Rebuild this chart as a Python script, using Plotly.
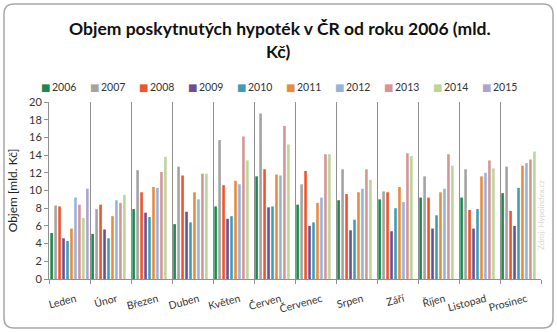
import plotly.graph_objects as go

months = ["Leden", "Únor", "Březen", "Duben", "Květen", "Červen",
          "Červenec", "Srpen", "Září", "Říjen", "Listopad", "Prosinec"]

v2006 = [5.2, 5.1, 7.9, 6.2, 8.2, 11.6, 8.4, 8.9, 9.0, 9.2, 9.2, 9.7]
v2007 = [8.3, 7.9, 12.3, 12.7, 15.7, 18.7, 10.7, 12.4, 9.9, 11.6, 12.4, 12.7]
v2008 = [8.2, 8.4, 9.8, 11.7, 10.6, 12.4, 12.2, 9.6, 9.8, 9.2, 7.8, 7.7]
v2009 = [4.6, 5.6, 7.5, 7.6, 6.8, 8.1, 6.0, 5.5, 5.4, 5.7, 5.7, 6.0]
v2010 = [4.3, 4.6, 7.0, 6.4, 7.1, 8.2, 6.4, 6.7, 8.0, 7.2, 7.9, 10.3]
v2011 = [5.7, 7.1, 10.4, 9.8, 11.1, 11.8, 8.6, 9.8, 10.4, 9.8, 11.6, 12.8]
v2012 = [9.2, 8.9, 10.3, 9.0, 10.7, 11.7, 9.2, 10.2, 8.7, 10.2, 12.0, 13.1]
v2013 = [8.4, 8.6, 12.1, 11.9, 16.1, 17.3, 14.1, 12.4, 14.2, 14.1, 13.4, 13.5]
v2014 = [6.9, 9.5, 13.8, 11.9, 13.4, 15.2, 14.1, 11.2, 13.9, 12.8, 12.5, 14.4]
v2015 = [10.2, None, None, None, None, None, None, None, None, None, None, None]

years = ["2006", "2007", "2008", "2009", "2010", "2011", "2012", "2013", "2014", "2015"]
series = [v2006, v2007, v2008, v2009, v2010, v2011, v2012, v2013, v2014, v2015]
colors = ["#1A8A4C", "#A3A3A3", "#F2532B", "#6B4F94", "#3D9DB9",
          "#E98B3C", "#97B3DD", "#D69595", "#BDD49B", "#ACA5CA"]

W, H = 557, 332
L, R, T, B = 49, 16, 102, 53
PW, PH = W - L - R, H - T - B

def px(x):
    return (x - L) / PW

def py(y):
    return (H - B - y) / PH

fig = go.Figure()
for yr, vals, c in zip(years, series, colors):
    fig.add_trace(go.Bar(name=yr, x=months, y=vals, marker_color=c,
                         marker_line_width=0, showlegend=False))

font = "Lato, 'Open Sans', sans-serif"

# rounded border
x0, x1, y0, y1, r = px(4), px(553), py(4), py(328), 10
rx, ry = r / PW, r / PH
path = (f"M {x0+rx},{y0} L {x1-rx},{y0} Q {x1},{y0} {x1},{y0-ry} "
        f"L {x1},{y1+ry} Q {x1},{y1} {x1-rx},{y1} "
        f"L {x0+rx},{y1} Q {x0},{y1} {x0},{y1+ry} "
        f"L {x0},{y0-ry} Q {x0},{y0} {x0+rx},{y0} Z")

title_font = dict(family=font, size=17.5, color="#111", weight="bold")
annotations = [
    dict(text="Objem poskytnutých hypoték v ČR od roku 2006 (mld.",
         x=px(280), y=py(28), xref="paper", yref="paper", xanchor="center",
         yanchor="middle", showarrow=False, font=title_font),
    dict(text="Kč)",
         x=px(278), y=py(52), xref="paper", yref="paper", xanchor="center",
         yanchor="middle", showarrow=False, font=title_font),
    dict(text="Zdroj: Hypoindex.cz", textangle=-90, x=px(548), y=py(215),
         xref="paper", yref="paper", showarrow=False,
         font=dict(size=8, color="#d8d8d8")),
]
# legend entries (colored square + label)
for i, (yr, c) in enumerate(zip(years, colors)):
    annotations.append(dict(
        text=f"<span style='color:{c}'>■</span>",
        x=px(45 + i * 49), y=py(87), xref="paper", yref="paper",
        xanchor="center", yanchor="middle", showarrow=False,
        font=dict(family="DejaVu Sans", size=10)))
    annotations.append(dict(
        text=yr,
        x=px(50 + i * 49), y=py(87), xref="paper", yref="paper",
        xanchor="left", yanchor="middle", showarrow=False,
        font=dict(family=font, size=10.5, color="#333")))

fig.update_layout(
    width=W, height=H,
    margin=dict(l=L, r=R, t=T, b=B),
    paper_bgcolor="white", plot_bgcolor="white",
    font=dict(family=font, size=11, color="#222"),
    barmode="group", bargap=0.03, bargroupgap=0.35,
    showlegend=False,
    xaxis=dict(tickson="boundaries", showgrid=True, gridcolor="#909090", gridwidth=1,
               showline=True, linecolor="#909090", ticks="outside", ticklen=4,
               tickcolor="#909090", tickangle=-15, tickfont=dict(size=10.5, color="#333"),
               ticklabelstandoff=9, ticklabelshift=6),
    yaxis=dict(range=[0, 20], dtick=2, showgrid=False, showline=True, linecolor="#909090",
               ticks="outside", ticklen=4, tickcolor="#909090", zeroline=False,
               tickfont=dict(size=11, color="#333"),
               title=dict(text="Objem [mld. Kč]", font=dict(size=12, color="#222"), standoff=8)),
    shapes=[dict(type="path", path=path, xref="paper", yref="paper",
                 line=dict(color="#a8a8a8", width=1.5), layer="below")],
    annotations=annotations,
)

fig.write_html("out.html")
